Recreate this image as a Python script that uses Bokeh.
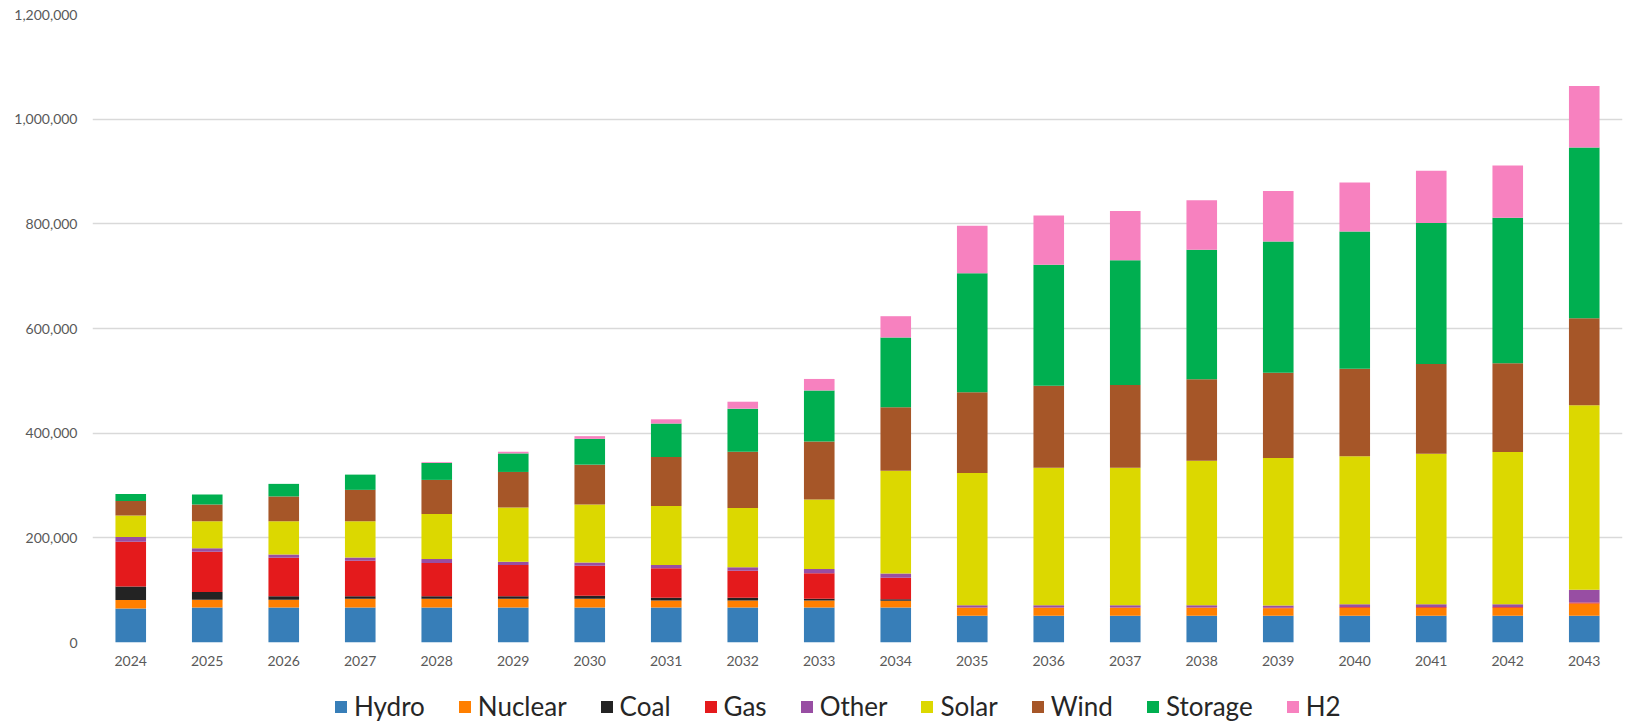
from bokeh.plotting import figure
from bokeh.layouts import column
from bokeh.models import FactorRange, Range1d, Legend, LegendItem, NumeralTickFormatter, FixedTicker
from bokeh.embed import file_html
from bokeh.resources import INLINE

years = [str(y) for y in range(2024, 2044)]
series = ["Hydro", "Nuclear", "Coal", "Gas", "Other", "Solar", "Wind", "Storage", "H2"]
colors = ["#377EB8", "#FF7F00", "#232323", "#E41A1C", "#984EA3", "#DCD800", "#A65628", "#00AF50", "#F781BF"]

hydro = [65000, 67000, 67000, 67000, 67000, 67000, 67000, 67000, 67000, 67000, 67000,
         51000, 51000, 51000, 51000, 51000, 51000, 51000, 51000, 51000]
nuclear = [16000, 14600, 14600, 16500, 16500, 16500, 16500, 13300, 13300, 13300, 13000,
           15200, 15200, 15200, 15200, 14600, 15300, 15300, 15300, 23400]
coal = [26000, 15100, 6900, 5000, 5000, 5000, 5700, 5100, 5100, 3200, 2500,
        0, 0, 0, 0, 0, 0, 0, 0, 0]
gas = [85500, 76600, 73400, 67800, 63300, 59500, 57600, 56300, 51900, 48700, 41000,
       800, 800, 800, 800, 1000, 1500, 1500, 1500, 2100]
other = [8900, 7000, 6400, 6300, 7600, 6400, 6300, 6300, 6300, 8200, 8300,
         4300, 4300, 4300, 4300, 4100, 5100, 5100, 5100, 24100]
solar = [41100, 51300, 63300, 69000, 86100, 103800, 110800, 112700, 113300, 133000, 196500,
         252500, 262700, 262700, 276100, 281800, 283200, 287600, 291300, 352600]
wind = [27900, 32300, 47500, 60100, 65200, 67700, 75900, 93700, 107600, 110700, 121000,
        154600, 156500, 157800, 155800, 162800, 167200, 171600, 169300, 166500]
storage = [13300, 19000, 24000, 29100, 32300, 35400, 49400, 63900, 82300, 97500, 133500,
           227000, 231500, 238400, 247400, 251100, 262100, 269300, 278200, 326300]
h2 = [0, 0, 0, 0, 1500, 3200, 5100, 8200, 13300, 22000, 40700,
      90900, 94100, 94200, 94700, 96400, 93400, 100100, 100000, 117500]

y_ticks = [0, 200000, 400000, 600000, 800000, 1000000, 1200000]

data = dict(year=years, Hydro=hydro, Nuclear=nuclear, Coal=coal, Gas=gas, Other=other,
            Solar=solar, Wind=wind, Storage=storage, H2=h2)

FONT = "Lato"

p = figure(x_range=FactorRange(*years, range_padding=0), y_range=Range1d(0, 1200000),
           width=1630, height=672, output_backend="svg", toolbar_location=None,
           min_border_left=92, min_border_right=8, min_border_top=14, min_border_bottom=30)

rs = p.vbar_stack(series, x="year", width=0.40, color=colors, line_color=None, source=data)

p.outline_line_color = None
p.background_fill_color = "white"
p.border_fill_color = "white"

p.xgrid.grid_line_color = None
p.ygrid.grid_line_color = "#D9D9D9"
p.ygrid.grid_line_width = 1.3
p.yaxis.ticker = FixedTicker(ticks=y_ticks)
p.yaxis.formatter = NumeralTickFormatter(format="0,0")

for ax in (p.xaxis[0], p.yaxis[0]):
    ax.axis_line_color = None
    ax.major_tick_line_color = None
    ax.minor_tick_line_color = None
    ax.major_tick_out = 0
    ax.major_tick_in = 0
    ax.major_label_text_color = "#595959"
    ax.major_label_text_font = FONT
    ax.major_label_text_font_size = "14px"

p.yaxis.major_label_standoff = 15
p.xaxis.major_label_standoff = 13

# legend strip
lg = figure(width=1630, height=50, output_backend="svg", toolbar_location=None,
            x_axis_type=None, y_axis_type=None, x_range=Range1d(0, 1), y_range=Range1d(0, 1),
            min_border=0, min_border_left=0, min_border_right=0, min_border_top=0, min_border_bottom=0)
lg.outline_line_color = None
lg.xgrid.grid_line_color = None
lg.ygrid.grid_line_color = None
dummies = [lg.vbar(x=[-5], top=[-5], bottom=[-6], width=0.1, color=c, line_color=None) for c in colors]
items = [LegendItem(label=s, renderers=[r]) for s, r in zip(series, dummies)]
legend = Legend(items=items, orientation="horizontal", location=(241, 0),
                label_text_font=FONT, label_text_font_size="26px", label_text_color="#262626",
                glyph_width=15, glyph_height=15, label_standoff=6, spacing=32,
                padding=0, margin=0, border_line_color=None, background_fill_alpha=0)
lg.add_layout(legend, "center")

layout = column(p, lg, spacing=0)
open("out.html", "w").write(file_html(layout, INLINE))
